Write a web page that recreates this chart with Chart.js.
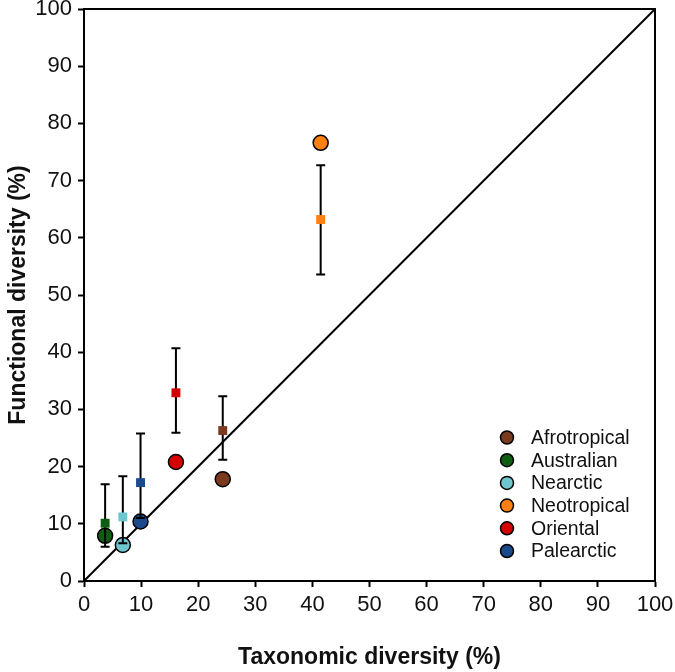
<!DOCTYPE html>
<html>
<head>
<meta charset="utf-8">
<script src="https://cdn.jsdelivr.net/npm/chart.js@4.4.1/dist/chart.umd.min.js"></script>
<style>
  html, body { margin: 0; padding: 0; background: #fff; }
  canvas { display: block; }
</style>
</head>
<body>
<canvas id="myChart" width="675" height="672"></canvas>
<script>
// biogeographic regions
const regions = ['Afrotropical', 'Australian', 'Nearctic', 'Neotropical', 'Oriental', 'Palearctic'];
const regionColors = ['#7b3a1e', '#0e5e12', '#6ec6cf', '#ff8010', '#d40000', '#1a4a8c'];

// taxonomic diversity (%) - x
const taxonomic = [24.3, 3.7, 6.8, 41.45, 16.1, 9.9];
// observed functional diversity (%) - circles
const functionalObs = [17.8, 7.9, 6.3, 76.6, 20.8, 10.4];
// expected functional diversity (%) - squares with error bars
const functionalExp = [26.3, 10.1, 11.2, 63.2, 32.9, 17.2];
const expLow = [21.2, 6.0, 6.6, 53.6, 25.9, 11.0];
const expHigh = [32.3, 16.9, 18.3, 72.7, 40.7, 25.8];

// 1:1 line
const diagonal = [{x: 0, y: 0}, {x: 100, y: 100}];
const axisTicks = [0, 10, 20, 30, 40, 50, 60, 70, 80, 90, 100];

const FONT = '"Liberation Sans", Arial, sans-serif';

const datasets = [];
// squares (drawn last)
regions.forEach(function(r, i){
	datasets.push({
		label: r + ' expected',
		data: [{x: taxonomic[i], y: functionalExp[i]}],
		pointStyle: 'rect',
		pointRadius: 6.3,
		backgroundColor: regionColors[i],
		borderWidth: 0,
		order: 0,
		isSquare: true
	});
});
// circles
regions.forEach(function(r, i){
	datasets.push({
		label: r,
		data: [{x: taxonomic[i], y: functionalObs[i]}],
		pointStyle: 'circle',
		pointRadius: 7.5,
		backgroundColor: regionColors[i],
		borderColor: '#000',
		borderWidth: 1.5,
		order: 1
	});
});
datasets.push({
	type: 'line',
	label: '1:1',
	data: diagonal,
	borderColor: '#000',
	borderWidth: 2,
	pointRadius: 0,
	order: 2
});

let barsDone = false;
const errorBars = {
	id: 'errorBars',
	beforeDatasetsDraw: function(){ barsDone = false; },
	beforeDatasetDraw: function(chart, args){
		const ds = chart.data.datasets[args.index];
		if (!ds.isSquare || barsDone) return;
		barsDone = true;
		const ctx = chart.ctx, xs = chart.scales.x, ys = chart.scales.y;
		ctx.save();
		ctx.strokeStyle = '#000';
		ctx.lineWidth = 2;
		for (let i = 0; i < regions.length; i++){
			const px = xs.getPixelForValue(taxonomic[i]);
			const lo = ys.getPixelForValue(expLow[i]);
			const hi = ys.getPixelForValue(expHigh[i]);
			ctx.beginPath();
			ctx.moveTo(px, lo); ctx.lineTo(px, hi);
			ctx.moveTo(px - 4.5, lo); ctx.lineTo(px + 4.5, lo);
			ctx.moveTo(px - 4.5, hi); ctx.lineTo(px + 4.5, hi);
			ctx.stroke();
		}
		ctx.restore();
	}
};

const frameAndLegend = {
	id: 'frameAndLegend',
	afterDraw: function(chart){
		const ctx = chart.ctx, a = chart.chartArea;
		ctx.save();
		ctx.strokeStyle = '#000';
		ctx.lineWidth = 2;
		ctx.beginPath();
		ctx.moveTo(a.left - 1, a.top);
		ctx.lineTo(a.right, a.top);
		ctx.lineTo(a.right, a.bottom + 1);
		ctx.stroke();

		ctx.font = '19.5px ' + FONT;
		ctx.textBaseline = 'middle';
		ctx.textAlign = 'left';
		for (let i = 0; i < regions.length; i++){
			const cy = 437.5 + i * 22.7;
			ctx.beginPath();
			ctx.arc(507, cy, 6.5, 0, Math.PI * 2);
			ctx.fillStyle = regionColors[i];
			ctx.fill();
			ctx.lineWidth = 1.5;
			ctx.stroke();
			ctx.fillStyle = '#111';
			ctx.fillText(regions[i], 531, cy + 1);
		}
		ctx.restore();
	}
};

const ctx = document.getElementById('myChart').getContext('2d');
const myChart = new Chart(ctx, {
	type: 'scatter',
	data: { datasets: datasets },
	options: {
		responsive: false,
		animation: false,
		devicePixelRatio: 1,
		layout: { padding: { top: 9, right: 20, left: 0, bottom: 0 } },
		plugins: { legend: { display: false }, tooltip: { enabled: false } },
		scales: {
			x: {
				type: 'linear',
				min: 0, max: 100,
				afterBuildTicks: function(s){ s.ticks = axisTicks.map(v => ({value: v})); },
				afterFit: function(s){ s.height = 91; s.paddingLeft = 0; s.paddingRight = 0; },
				grid: { drawOnChartArea: false, drawTicks: true, tickLength: 6, tickWidth: 2, tickColor: '#000' },
				border: { display: true, color: '#000', width: 2 },
				ticks: { color: '#111', font: { family: FONT, size: 22 }, padding: 5, maxRotation: 0 },
				title: { display: true, text: 'Taxonomic diversity (%)', color: '#111',
					font: { family: FONT, size: 23, weight: 'bold' }, padding: { top: 0, bottom: 1 } }
			},
			y: {
				type: 'linear',
				min: 0, max: 100,
				afterBuildTicks: function(s){ s.ticks = axisTicks.map(v => ({value: v})); },
				afterFit: function(s){ s.width = 84; s.paddingTop = 0; s.paddingBottom = 0; },
				grid: { drawOnChartArea: false, drawTicks: true, tickLength: 6, tickWidth: 2, tickColor: '#000' },
				border: { display: true, color: '#000', width: 2 },
				ticks: { color: '#111', font: { family: FONT, size: 22 }, padding: 6 },
				title: { display: true, text: 'Functional diversity (%)', color: '#111',
					font: { family: FONT, size: 23, weight: 'bold' }, padding: { top: 5, bottom: 0 } }
			}
		}
	},
	plugins: [errorBars, frameAndLegend]
});
</script>
</body>
</html>
